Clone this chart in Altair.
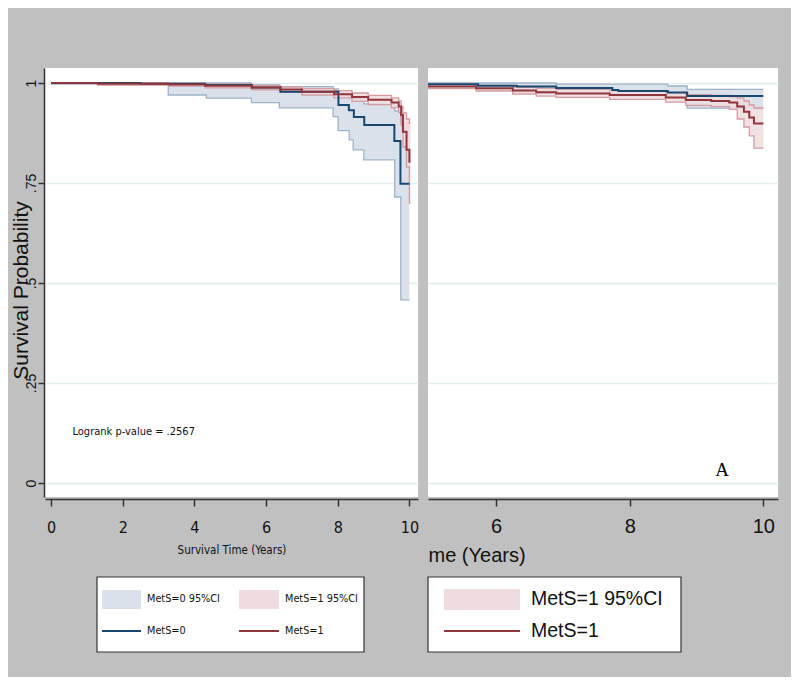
import altair as alt
import pandas as pd

# ---------------- data ----------------
# Left panel: full follow-up, Kaplan-Meier step curves
L_M0_T = [0, 2.5, 4.3, 5.6, 6.4, 8.02, 8.31, 8.45, 8.74, 9.58, 9.75, 10.0]
L_M0_S = [1.0, 0.998, 0.995, 0.989, 0.978, 0.945, 0.932, 0.915, 0.895, 0.855, 0.748, 0.748]
L_M0_CI_T = [0, 3.27, 4.33, 5.59, 6.37, 7.87, 8.01, 8.32, 8.43, 8.73, 9.59, 9.76, 10.0]
L_M0_LO = [0.997, 0.97, 0.962, 0.951, 0.938, 0.916, 0.881, 0.858, 0.833, 0.808, 0.715, 0.458, 0.458]
L_M0_HI = [1.0, 1.0, 1.0, 0.995, 0.991, 0.985, 0.974, 0.965, 0.96, 0.948, 0.93, 0.9, 0.9]

L_M1_T = [0, 1.3, 3.3, 4.3, 5.6, 6.4, 7.0, 7.9, 8.4, 8.85, 9.5, 9.7, 9.77, 9.82, 9.92, 10.0, 10.03]
L_M1_S = [1.0, 0.998, 0.996, 0.993, 0.989, 0.984, 0.978, 0.972, 0.965, 0.958, 0.951, 0.941, 0.92, 0.878, 0.833, 0.803, 0.803]
L_M1_HI = [1.0, 1.0, 0.999, 0.997, 0.994, 0.99, 0.986, 0.981, 0.975, 0.969, 0.963, 0.955, 0.94, 0.925, 0.91, 0.899, 0.899]
L_M1_LO = [1.0, 0.995, 0.992, 0.988, 0.983, 0.977, 0.97, 0.963, 0.954, 0.946, 0.938, 0.926, 0.895, 0.84, 0.79, 0.70, 0.70]

# Right panel: second (cropped) graph
R_M0_T = [4.98, 5.73, 6.31, 6.9, 7.74, 7.83, 8.57, 8.86, 10.0]
R_M0_S = [0.997, 0.993, 0.991, 0.9875, 0.9825, 0.98, 0.976, 0.9675, 0.9675]
R_M0_CI_T = [4.98, 5.73, 6.25, 6.9, 7.74, 8.57, 8.86, 10.0]
R_M0_HI = [1.0, 1.0, 1.0, 0.997, 0.997, 0.9925, 0.984, 0.984]
R_M0_LO = [0.99, 0.985, 0.974, 0.974, 0.968, 0.963, 0.937, 0.937]

R_M1_T = [4.98, 5.70, 6.25, 6.60, 6.90, 7.70, 8.54, 8.84, 9.22, 9.49, 9.61, 9.71, 9.79, 9.86, 10.0]
R_M1_S = [0.991, 0.987, 0.981, 0.977, 0.974, 0.970, 0.964, 0.9575, 0.955, 0.951, 0.941, 0.928, 0.914, 0.899, 0.899]
R_M1_HI = [0.996, 0.994, 0.99, 0.987, 0.984, 0.981, 0.976, 0.971, 0.969, 0.966, 0.962, 0.955, 0.945, 0.937, 0.937]
R_M1_LO = [0.986, 0.98, 0.972, 0.967, 0.964, 0.959, 0.952, 0.944, 0.941, 0.934, 0.91, 0.89, 0.868, 0.837, 0.837]

Y_TICKS = [0, 0.25, 0.5, 0.75, 1]
LEFT_X_TICKS = [0, 2, 4, 6, 8, 10]
RIGHT_X_TICKS = [6, 8, 10]
LEGEND_LEFT = ["MetS=0 95%CI", "MetS=1 95%CI", "MetS=0", "MetS=1"]
LEGEND_RIGHT = ["MetS=1 95%CI", "MetS=1"]
LOGRANK = "Logrank p-value = .2567"
PANEL_TAG = "A"
Y_TITLE = "Survival Probability"
LEFT_X_TITLE = "Survival Time (Years)"
RIGHT_X_TITLE = "me (Years)"

# ---------------- styles ----------------
GRAY = "#c0c0c0"
BLUE = "#1a476f"
RED = "#90353b"
BLUE_FILL = "#dae1eb"
BLUE_EDGE = "#9fb2c8"
RED_FILL = "#efdcde"
RED_EDGE = "#d59ca2"
GRID = "#e2edef"
INK = "#111111"
NARROW = "Liberation Sans Narrow, Arial Narrow, DejaVu Sans Condensed, sans-serif"
ARIAL = "Liberation Sans, Arial, sans-serif"
SERIF = "Liberation Serif, Times New Roman, serif"

Y_SCALE = alt.Scale(domain=[-0.035, 1.0375], nice=False, zero=False)
ONE = pd.DataFrame({"k": [0]})


def km_layers(x_enc, y_axis, ci_sets, line_sets):
    layers = []
    for t, lo, hi, fill, edge, op in ci_sets:
        base = alt.Chart(pd.DataFrame({"t": t, "lo": lo, "hi": hi}))
        layers.append(
            base.mark_area(interpolate="step-after", color=fill, opacity=op, clip=True).encode(
                x=x_enc, y=alt.Y("lo:Q", scale=Y_SCALE, axis=y_axis), y2=alt.Y2("hi:Q")
            )
        )
        for f in ["lo", "hi"]:
            layers.append(
                base.mark_line(interpolate="step-after", color=edge, strokeWidth=1.3, clip=True).encode(
                    x=x_enc, y=alt.Y(f"{f}:Q", scale=Y_SCALE, axis=y_axis)
                )
            )
    for t, s, color in line_sets:
        layers.append(
            alt.Chart(pd.DataFrame({"t": t, "s": s}))
            .mark_line(interpolate="step-after", color=color, strokeWidth=2, clip=True)
            .encode(x=x_enc, y=alt.Y("s:Q", scale=Y_SCALE, axis=y_axis))
        )
    return layers


def text_layer(txt, x, y, font, size, align="left", color=INK):
    return (
        alt.Chart(pd.DataFrame({"label": [txt]}))
        .mark_text(align=align, baseline="middle", font=font, fontSize=size, color=color)
        .encode(x=alt.value(x), y=alt.value(y), text="label:N")
    )


def box(x1, x2, y1, y2, fill, stroke=None):
    kw = {"fill": fill}
    if stroke:
        kw.update(stroke=stroke, strokeWidth=1.2)
    return alt.Chart(ONE).mark_rect(**kw).encode(
        x=alt.value(x1), x2=alt.value(x2), y=alt.value(y1), y2=alt.value(y2)
    )


def hline(x1, x2, y, color):
    return alt.Chart(ONE).mark_rule(color=color, strokeWidth=2).encode(
        x=alt.value(x1), x2=alt.value(x2), y=alt.value(y)
    )


# ---------------- left panel ----------------
LW, H = 373, 429
left_x = alt.X(
    "t:Q",
    scale=alt.Scale(domain=[-0.17, 10.24], nice=False, zero=False),
    axis=alt.Axis(
        values=LEFT_X_TICKS, format="d", grid=False, offset=2,
        domainColor="#333", domainWidth=1.5, tickColor="#333", tickWidth=1.5, tickSize=7,
        labelFont=NARROW, labelFontSize=16, labelColor=INK, labelPadding=13, labelFlush=False,
        title=LEFT_X_TITLE, titleFont=NARROW, titleFontSize=11.5, titleFontWeight="normal",
        titleColor=INK, titleY=51, titleBaseline="middle",
    ),
)
left_y_axis = alt.Axis(
    values=Y_TICKS,
    labelExpr="datum.value == 0 ? '0' : datum.value == 1 ? '1' : substring(format(datum.value, '.2~f'), 1)",
    grid=True, gridColor=GRID, gridWidth=1.5, offset=1,
    domainColor="#333", domainWidth=1.5, tickColor="#333", tickWidth=1.5, tickSize=6,
    labelAngle=270, labelAlign="center", labelBaseline="bottom", labelPadding=0,
    labelFont=ARIAL, labelFontSize=14, labelColor=INK,
    title=Y_TITLE, titleFont=ARIAL, titleFontSize=21, titleFontWeight="normal", titleColor=INK,
    titleAngle=270, titleX=-23, titleY=222, titleAlign="center", titleBaseline="middle",
)
left_layers = km_layers(
    left_x, left_y_axis,
    [(L_M0_CI_T, L_M0_LO, L_M0_HI, BLUE_FILL, BLUE_EDGE, 1.0),
     (L_M1_T, L_M1_LO, L_M1_HI, RED_FILL, RED_EDGE, 0.85)],
    [(L_M0_T, L_M0_S, BLUE), (L_M1_T, L_M1_S, RED)],
)
left_layers += [
    text_layer(LOGRANK, 27.5, 364, NARROW, 11),
    box(52, 319, 509, 584, "white", "#333"),
    box(57, 96, 522, 541, BLUE_FILL),
    box(194, 234, 522, 541, RED_FILL),
    hline(57, 96, 563, BLUE),
    hline(194, 234, 563, RED),
    text_layer(LEGEND_LEFT[0], 102, 531, NARROW, 10.8),
    text_layer(LEGEND_LEFT[1], 240, 531, NARROW, 10.8),
    text_layer(LEGEND_LEFT[2], 102, 563, NARROW, 10.8),
    text_layer(LEGEND_LEFT[3], 240, 563, NARROW, 10.8),
]
left = alt.layer(*left_layers).properties(width=LW, height=H)

# ---------------- right panel ----------------
RW = 350
right_x = alt.X(
    "t:Q",
    scale=alt.Scale(domain=[4.98, 10.22], nice=False, zero=False),
    axis=alt.Axis(
        values=RIGHT_X_TICKS, format="d", grid=False, offset=2,
        domainColor="#333", domainWidth=1.5, tickColor="#333", tickWidth=1.5, tickSize=7,
        labelFont=ARIAL, labelFontSize=20, labelColor=INK, labelPadding=10, labelFlush=False,
        title=RIGHT_X_TITLE, titleFont=ARIAL, titleFontSize=20, titleFontWeight="normal",
        titleColor=INK, titleX=0, titleAlign="left", titleY=56, titleBaseline="middle",
    ),
)
right_y_axis = alt.Axis(
    values=Y_TICKS, labels=False, ticks=False, domain=False, title=None,
    grid=True, gridColor=GRID, gridWidth=1.5,
)
right_layers = km_layers(
    right_x, right_y_axis,
    [(R_M0_CI_T, R_M0_LO, R_M0_HI, BLUE_FILL, BLUE_EDGE, 1.0),
     (R_M1_T, R_M1_LO, R_M1_HI, RED_FILL, RED_EDGE, 0.85)],
    [(R_M0_T, R_M0_S, BLUE), (R_M1_T, R_M1_S, RED)],
)
right_layers += [
    text_layer(PANEL_TAG, 294, 402, SERIF, 19, align="center", color="#000"),
    box(0, 253, 509, 584, "white", "#333"),
    box(16, 92, 521, 542, RED_FILL),
    hline(16, 92, 563, RED),
    text_layer(LEGEND_RIGHT[0], 103, 531, ARIAL, 19.5),
    text_layer(LEGEND_RIGHT[1], 103, 563, ARIAL, 19.5),
]
right = alt.layer(*right_layers).properties(width=RW, height=H)

chart = (
    alt.hconcat(left, right, spacing=8)
    .properties(background=GRAY, padding={"left": 2, "top": 60, "right": 13, "bottom": 24})
    .configure_view(fill="white", stroke=None)
)

chart.save("out.html", embed_options={"renderer": "svg", "actions": False})
